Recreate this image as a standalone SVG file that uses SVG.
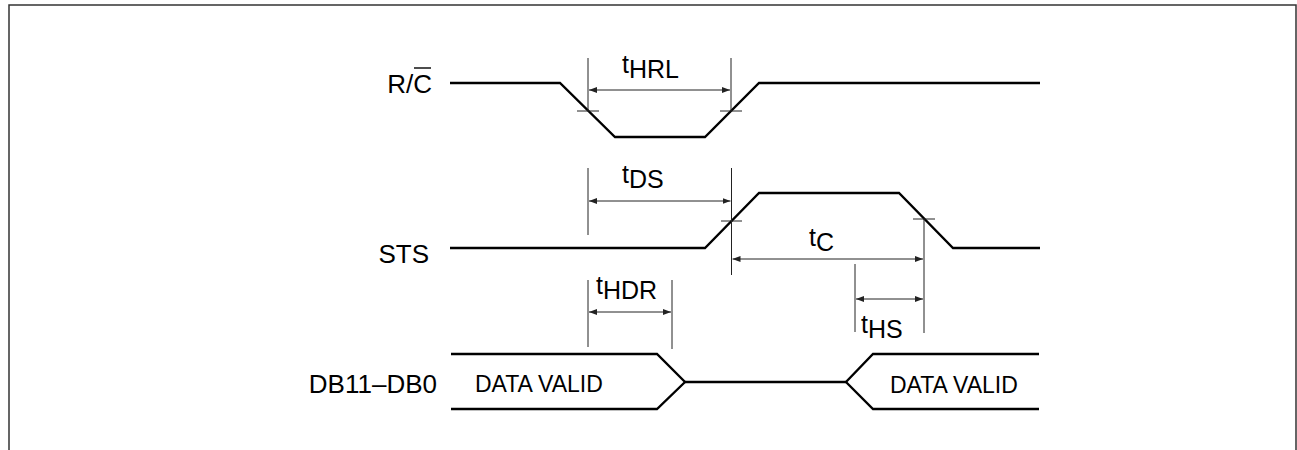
<svg xmlns="http://www.w3.org/2000/svg" width="1297" height="450" viewBox="0 0 1297 450">
<style>
.sig{fill:none;stroke:#000;stroke-width:2.3;stroke-linejoin:miter}
.dim{fill:none;stroke:#222;stroke-width:1}
.lbl{font-family:"Liberation Sans",Arial,sans-serif;font-size:26px;fill:#000}
.tl{font-family:"Liberation Sans",Arial,sans-serif;font-size:25px;fill:#000}
.dv{font-family:"Liberation Sans",Arial,sans-serif;font-size:23px;fill:#000}
</style>
<defs>
<marker id="ah" viewBox="0 0 8 6" refX="8" refY="3" markerWidth="8" markerHeight="6" markerUnits="userSpaceOnUse" orient="auto-start-reverse">
<path d="M0,0 L8,3 L0,6 Z" fill="#222"/>
</marker>
</defs>
<rect width="1297" height="450" fill="#fff"/>
<path d="M9,450 V5 H1296 V450" fill="none" stroke="#333" stroke-width="1.5"/>

<g id="rc">
<text class="lbl" x="432" y="93" text-anchor="end">R/C</text>
<line x1="414" y1="68" x2="431" y2="68" stroke="#000" stroke-width="1.4"/>
<polyline class="sig" points="450,83 560,83 615,137 705,137 759,83 1040,83"/>
</g>
<g id="sts">
<text class="lbl" x="429" y="263" text-anchor="end">STS</text>
<polyline class="sig" points="450,248 705,248 759,193 899,193 953,248 1040,248"/>
</g>
<g id="db">
<text class="lbl" x="437" y="393" text-anchor="end">DB11–DB0</text>
<path class="sig" d="M451,354 H657 L685,382 L657,409 H451"/>
<path class="sig" d="M685,382 H846"/>
<path class="sig" d="M1039,354 H873 L846,382 L873,409 H1039"/>
<text class="dv" x="475" y="392">DATA VALID</text>
<text class="dv" x="890" y="393">DATA VALID</text>
</g>

<g id="connectors">
<line class="dim" x1="588" y1="58" x2="588" y2="111"/>
<line class="dim" x1="731" y1="58" x2="731" y2="111"/>
<line class="dim" x1="577" y1="111" x2="599" y2="111"/>
<line class="dim" x1="720" y1="111" x2="742" y2="111"/>
<line class="dim" x1="589" y1="90" x2="730" y2="90" marker-start="url(#ah)" marker-end="url(#ah)"/>
<line class="dim" x1="588" y1="168" x2="588" y2="235"/>
<line class="dim" x1="731.5" y1="168" x2="731.5" y2="275"/>
<line class="dim" x1="721" y1="221" x2="742" y2="221"/>
<line class="dim" x1="589" y1="201" x2="730.5" y2="201" marker-start="url(#ah)" marker-end="url(#ah)"/>
<line class="dim" x1="924" y1="219" x2="924" y2="333"/>
<line class="dim" x1="913" y1="219" x2="935" y2="219"/>
<line class="dim" x1="732.5" y1="259" x2="923" y2="259" marker-start="url(#ah)" marker-end="url(#ah)"/>
<line class="dim" x1="855" y1="264" x2="855" y2="332"/>
<line class="dim" x1="856" y1="299" x2="923" y2="299" marker-start="url(#ah)" marker-end="url(#ah)"/>
<line class="dim" x1="588" y1="280" x2="588" y2="347"/>
<line class="dim" x1="672" y1="280" x2="672" y2="349"/>
<line class="dim" x1="589" y1="312" x2="671" y2="312" marker-start="url(#ah)" marker-end="url(#ah)"/>
</g>

<g id="labels">
<text class="tl" x="622" y="73">t<tspan dy="5">HRL</tspan></text>
<text class="tl" x="622" y="183">t<tspan dy="5">DS</tspan></text>
<text class="tl" x="809" y="246">t<tspan dy="5">C</tspan></text>
<text class="tl" x="861" y="333">t<tspan dy="5">HS</tspan></text>
<text class="tl" x="596" y="294">t<tspan dy="5">HDR</tspan></text>
</g>
</svg>
